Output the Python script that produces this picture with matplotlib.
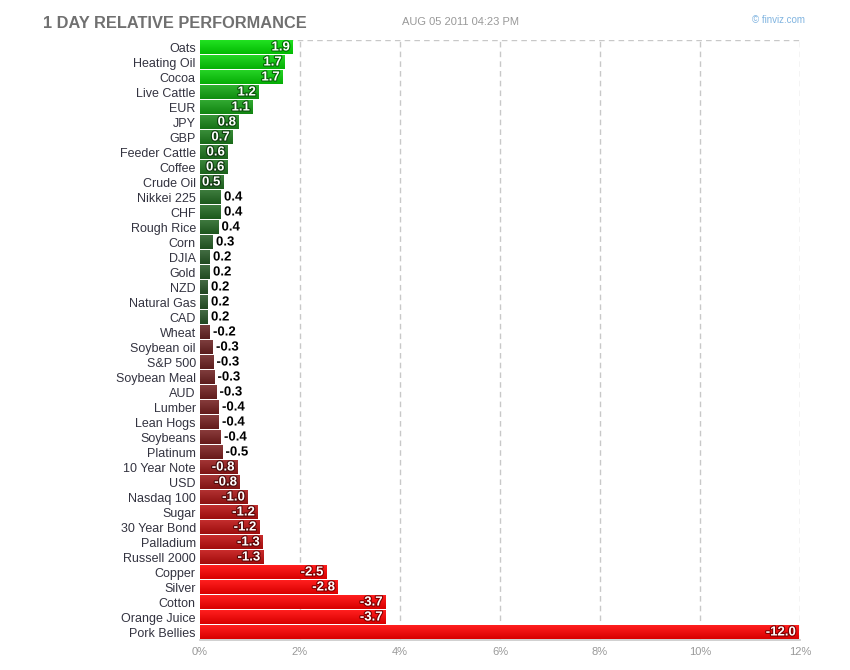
import numpy as np
import matplotlib
matplotlib.use("Agg")
import matplotlib.pyplot as plt
import matplotlib.patheffects as pe

plt.rcParams["font.family"] = ["Liberation Sans", "DejaVu Sans"]

# 1 day relative performance, %
names = ["Oats", "Heating Oil", "Cocoa", "Live Cattle", "EUR", "JPY", "GBP",
         "Feeder Cattle", "Coffee", "Crude Oil", "Nikkei 225", "CHF", "Rough Rice",
         "Corn", "DJIA", "Gold", "NZD", "Natural Gas", "CAD", "Wheat", "Soybean oil",
         "S&P 500", "Soybean Meal", "AUD", "Lumber", "Lean Hogs", "Soybeans",
         "Platinum", "10 Year Note", "USD", "Nasdaq 100", "Sugar", "30 Year Bond",
         "Palladium", "Russell 2000", "Copper", "Silver", "Cotton", "Orange Juice",
         "Pork Bellies"]
perf = [1.86, 1.70, 1.66, 1.18, 1.06, 0.78, 0.66, 0.56, 0.55, 0.47, 0.42, 0.42,
        0.37, 0.26, 0.20, 0.20, 0.16, 0.16, 0.16, -0.20, -0.26, -0.27, -0.29,
        -0.33, -0.38, -0.38, -0.42, -0.45, -0.75, -0.80, -0.96, -1.16, -1.19,
        -1.26, -1.27, -2.53, -2.76, -3.72, -3.72, -11.98]
ticks = [0, 2, 4, 6, 8, 10, 12]


def bar_color(v):
    t = min(abs(v) / 2.0, 1.0)
    if v >= 0:
        lo, hi = np.array([44, 72, 44]), np.array([0, 232, 0])
    else:
        lo, hi = np.array([85, 40, 40]), np.array([255, 0, 0])
    return (lo * (1 - t) + hi * t) / 255.0


fig = plt.figure(figsize=(8.5, 6.7), dpi=100)
ax = fig.add_axes([200 / 850, 30 / 670, 600 / 850, 600 / 670])

h = 0.87
for i, v in enumerate(perf):
    w = abs(v)
    c = bar_color(v)
    # vertical gradient: lighter at top, darker at bottom
    k = np.linspace(0, 1, 16)[:, None]
    top = c + (1 - c) * 0.12
    bot = c * 0.85
    grad = top * (1 - k) + bot * k
    ax.imshow(grad[:, None, :], extent=[0, w, i + h / 2, i - h / 2],
              aspect="auto", interpolation="bilinear", zorder=2)
    txt = f"{v:.1f}"
    if w >= 0.46:
        ax.text(w - 0.06, i, txt, ha="right", va="center", color="white",
                fontsize=9.5, fontweight="bold", zorder=4,
                path_effects=[pe.withStroke(linewidth=1.6, foreground=c * 0.5)])
    else:
        ax.text(w + 0.06, i, txt, ha="left", va="center", color="black",
                fontsize=9.5, fontweight="bold", zorder=4,
                path_effects=[pe.withStroke(linewidth=1.6, foreground="white")])

ax.set_xlim(0, 12)
ax.set_ylim(len(perf) - 0.5, -0.5)
ax.set_yticks(range(len(perf)))
ax.set_yticklabels(names, fontsize=9, color="#333340")
ax.set_xticks(ticks)
ax.set_xticklabels([f"{t}%" for t in ticks], fontsize=8, color="#999999")
ax.tick_params(axis="y", length=0, pad=3)
ax.tick_params(axis="x", length=0, pad=5)
for t in ticks[1:]:
    ax.axvline(t, color="#c8c8c8", linestyle=(0, (4, 3)), linewidth=1, zorder=1)
ax.axhline(-0.5, color="#c8c8c8", linestyle=(0, (4, 3)), linewidth=1, zorder=1)
for s in ["top", "right", "left"]:
    ax.spines[s].set_visible(False)
ax.spines["bottom"].set_color("#c8c8c8")
ax.spines["bottom"].set_linewidth(1.2)

fig.text(43 / 850, 1 - 23 / 670, "1 DAY RELATIVE PERFORMANCE", fontsize=11.8,
         fontweight="bold", color="#707070", va="center", ha="left")
fig.text(402 / 850, 1 - 22 / 670, "AUG 05 2011 04:23 PM", fontsize=8,
         color="#999999", va="center", ha="left")
fig.text(805 / 850, 1 - 20 / 670, "\u00a9 finviz.com", fontsize=7,
         color="#80b4e0", va="center", ha="right")

fig.savefig("out.png", dpi=100, facecolor="white")
